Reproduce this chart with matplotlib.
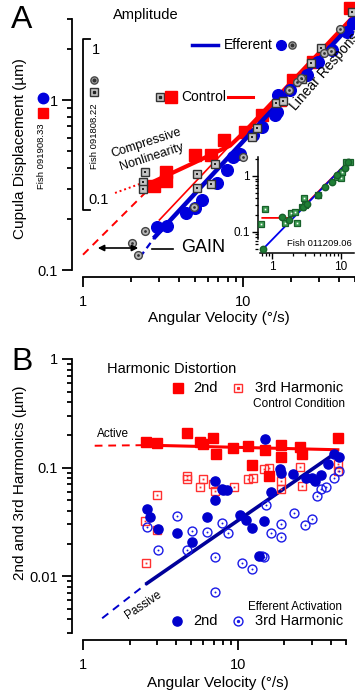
import matplotlib
matplotlib.use('Agg')
import matplotlib.pyplot as plt
from matplotlib.lines import Line2D
from matplotlib.patches import FancyArrowPatch

plt.rcParams['font.family'] = ['Liberation Sans', 'DejaVu Sans']

# ---------------- Panel A data ----------------
a_ctrl_x = [2.78, 3.30, 3.30, 5.0, 6.3, 7.6, 10.3, 13.1, 17.0, 20.5, 27.4, 46.6]
a_ctrl_y = [0.312, 0.375, 0.335, 0.475, 0.475, 0.58, 0.65, 0.82, 1.0, 1.31, 1.67, 3.47]
a_eff_x = [2.90, 3.35, 4.40, 5.0, 5.54, 6.87, 7.94, 8.66, 9.58, 11.5, 13.1, 15.8, 16.3,
           16.5, 19.7, 25.1, 29.5, 36.0, 44.7, 48.8]
a_eff_y = [0.179, 0.181, 0.217, 0.232, 0.258, 0.325, 0.388, 0.462, 0.481, 0.622, 0.694,
           0.816, 0.85, 1.07, 1.145, 1.40, 1.67, 1.97, 2.51, 2.84]
a_ctrl2_x = [2.44, 2.37, 2.37, 5.16, 5.16, 6.32, 6.67, 11.4, 12.2, 16.1, 17.8, 23.4, 26.6, 30.7, 47.9]
a_ctrl2_y = [0.377, 0.329, 0.300, 0.367, 0.304, 0.321, 0.420, 0.606, 0.684, 0.960, 0.987,
             1.33, 1.65, 2.02, 3.29]
a_eff2_x = [2.44, 2.02, 2.21, 4.94, 10.0, 19.4, 21.8, 23.0, 32.1, 35.4, 40.2]
a_eff2_y = [0.169, 0.144, 0.122, 0.235, 0.462, 1.145, 1.28, 1.35, 1.89, 1.94, 2.61]

a_ctrl_fit_x = [2.55, 5.0, 8.3, 12.0, 50.0]
a_ctrl_fit_y = [0.32, 0.43, 0.54, 0.75, 3.1]
a_ctrl_lin_x = [3.0, 50.0]
a_ctrl_lin_y = [0.197, 3.25]
a_ctrl_dash_x = [1.0, 2.44]
a_ctrl_dash_y = [0.123, 0.284]
a_ctrl_dot_x = [1.585, 2.45]
a_ctrl_dot_y = [0.284, 0.33]
a_eff_fit_x = [2.82, 50.0]
a_eff_fit_y = [0.157, 2.95]
a_eff_dash_x = [2.27, 2.82]
a_eff_dash_y = [0.119, 0.157]

# inset (Fish 011209.06)
in_ctrl_x = [0.693, 0.792, 1.54, 2.30, 1.89, 2.15, 2.72, 2.91, 3.01, 4.64, 8.75, 10.0, 10.3, 11.8, 13.5]
in_ctrl_y = [0.139, 0.257, 0.145, 0.145, 0.218, 0.228, 0.280, 0.405, 0.304, 0.458, 0.96, 0.92,
             1.18, 1.78, 1.78]
in_eff_x = [0.74, 1.40, 1.76, 2.81, 3.21, 4.64, 5.86, 7.4, 8.75, 11.4, 12.6]
in_eff_y = [0.050, 0.185, 0.164, 0.28, 0.316, 0.458, 0.636, 0.78, 1.04, 1.39, 1.78]
in_ctrl_fit_x = [0.716, 1.82, 2.54, 13.5]
in_ctrl_fit_y = [0.178, 0.178, 0.247, 1.93]
in_eff_fit_x = [0.716, 13.5]
in_eff_fit_y = [0.048, 1.93]

# ---------------- Panel B data ----------------
b_ctrl2_x = [2.55, 3.0, 4.69, 5.69, 5.94, 6.89, 7.2, 9.3, 11.6, 12.3, 14.9, 16.0, 18.9, 18.9,
             25.4, 25.8, 44.3]
b_ctrl2_y = [0.173, 0.169, 0.209, 0.173, 0.166, 0.188, 0.134, 0.153, 0.159, 0.106, 0.146,
             0.083, 0.162, 0.126, 0.156, 0.134, 0.188]
b_ctrl3_x = [2.55, 2.51, 3.0, 3.0, 4.69, 4.69, 5.69, 5.94, 6.89, 7.1, 9.4, 11.6, 12.5, 14.7,
             16.0, 18.9, 18.9, 25.1, 25.8, 44.3, 44.3]
b_ctrl3_y = [0.0132, 0.032, 0.0264, 0.0565, 0.0845, 0.079, 0.0656, 0.078, 0.0713, 0.0615,
             0.0656, 0.079, 0.081, 0.098, 0.1, 0.076, 0.064, 0.102, 0.068, 0.107, 0.094]
b_eff2_x = [2.59, 2.71, 3.04, 4.04, 5.05, 6.3, 7.1, 7.1, 7.87, 8.5, 7.99, 10.4, 11.3, 12.3,
            14.7, 13.8, 14.9, 16.5, 18.6, 18.9, 22.6, 27.4, 30.0, 31.3, 34.7, 38.1, 42.1, 44.8]
b_eff2_y = [0.042, 0.0348, 0.027, 0.0248, 0.0205, 0.0348, 0.076, 0.0498, 0.0642, 0.0628,
            0.0628, 0.037, 0.0326, 0.028, 0.032, 0.0153, 0.185, 0.060, 0.098, 0.090, 0.088,
            0.081, 0.081, 0.076, 0.086, 0.107, 0.134, 0.126]
b_eff3_x = [2.59, 3.04, 4.04, 4.69, 5.05, 6.3, 7.1, 7.1, 7.87, 8.6, 10.6, 12.3, 14.7, 14.3,
            15.1, 16.5, 18.9, 18.9, 23.0, 27.0, 30.0, 32.3, 34.7, 37.4, 42.1, 44.8]
b_eff3_y = [0.0282, 0.0174, 0.0355, 0.0174, 0.0259, 0.0253, 0.0149, 0.0071, 0.0307, 0.0248,
            0.0132, 0.0116, 0.0149, 0.0153, 0.0448, 0.0248, 0.030, 0.0228, 0.0379, 0.0294,
            0.0334, 0.0553, 0.0642, 0.0656, 0.081, 0.0938]
b_ctrl_fit_x = [2.55, 44.3]
b_ctrl_fit_y = [0.161, 0.146]
b_ctrl_ext_x = [1.19, 2.55]
b_ctrl_ext_y = [0.159, 0.161]
b_eff_fit_x = [2.59, 42.1]
b_eff_fit_y = [0.0086, 0.134]
b_eff_ext_x = [1.33, 2.59]
b_eff_ext_y = [0.0041, 0.0086]

x_major = [1, 10]
x_major_labels = ['1', '10']
x_minor = [2, 3, 4, 5, 6, 7, 8, 9, 20, 30, 40, 50]
a_y_major = [0.1, 1]
a_y_major_labels = ['0.1', '1']
a_y_minor = [0.2, 0.3, 0.4, 0.5, 0.6, 0.7, 0.8, 0.9, 2, 3]
b_y_major = [0.01, 0.1, 1]
b_y_major_labels = ['0.01', '0.1', '1']
b_y_minor = [0.003, 0.004, 0.005, 0.006, 0.007, 0.008, 0.009,
             0.02, 0.03, 0.04, 0.05, 0.06, 0.07, 0.08, 0.09,
             0.2, 0.3, 0.4, 0.5, 0.6, 0.7, 0.8, 0.9]

RED = '#ff0000'
BLUE = '#0000dd'
NAVY = '#00009a'
GREEN = '#1f7f35'

W, H = 355, 692
fig = plt.figure(figsize=(W / 100, H / 100), dpi=100)


def P(x, y):
    return (x / W, 1 - y / H)


def style_axes(ax, left_out=8, bottom_out=5, lw=1.3, fs=10.5):
    for s in ['top', 'right']:
        ax.spines[s].set_visible(False)
    ax.spines['left'].set_position(('outward', left_out))
    ax.spines['bottom'].set_position(('outward', bottom_out))
    for s in ['left', 'bottom']:
        ax.spines[s].set_linewidth(lw)
    ax.tick_params(which='major', direction='out', length=7, width=lw, labelsize=fs, pad=3)
    ax.tick_params(which='minor', direction='out', length=3.8, width=lw)
    ax.tick_params(axis='x', which='major', pad=6)
    ax.patch.set_alpha(0)


def dotmark(ax, x, y, marker, ms, mfc, mec, mew, dotc, dotms, z=4, **kw):
    ax.plot(x, y, linestyle='none', marker=marker, ms=ms, mfc=mfc, mec=mec, mew=mew,
            zorder=z, clip_on=False, **kw)
    ax.plot(x, y, linestyle='none', marker='s' if marker == 's' else 'o', ms=dotms,
            mfc=dotc, mec=dotc, mew=0, zorder=z + 0.1, clip_on=False, **kw)


def fig_marker(px, py, **kw):
    fx, fy = P(px, py)
    fig.add_artist(Line2D([fx], [fy], linestyle='none', transform=fig.transFigure, **kw))


def fig_line(xs, ys, **kw):
    fig.add_artist(Line2D([x / W for x in xs], [1 - y / H for y in ys],
                          transform=fig.transFigure, **kw))


# ================= Panel A =================
axA = fig.add_axes([83 / W, 1 - 270 / H, (355 - 83) / W, (270 - 19) / H])
axA.set_xscale('log')
axA.set_yscale('log')
axA.set_xlim(1, 50)
axA.set_ylim(0.1, 3)
style_axes(axA)
axA.set_xticks(x_major)
axA.set_xticklabels(x_major_labels)
axA.set_xticks(x_minor, minor=True)
axA.set_xticklabels([], minor=True)
axA.set_yticks(a_y_major)
axA.set_yticklabels(a_y_major_labels)
axA.set_yticks(a_y_minor, minor=True)
axA.set_yticklabels([], minor=True)

axA.plot(a_ctrl_dash_x, a_ctrl_dash_y, color=RED, lw=1.4, ls=(0, (4, 3)), zorder=2, clip_on=False)
axA.plot(a_ctrl_dot_x, a_ctrl_dot_y, color=RED, lw=1.4, ls=(0, (1, 1.5)), zorder=2, clip_on=False)
axA.plot(a_ctrl_fit_x, a_ctrl_fit_y, color=RED, lw=3, zorder=2, clip_on=False)
axA.plot(a_ctrl_x, a_ctrl_y, 's', ms=9, color=RED, mec=RED, zorder=3, clip_on=False)
axA.plot(a_eff_dash_x, a_eff_dash_y, color='#0000cc', lw=1.6, ls=(0, (3, 2)), zorder=3, clip_on=False)
axA.plot(a_eff_fit_x, a_eff_fit_y, color='#0000cc', lw=3.2, zorder=3, clip_on=False)
axA.plot(a_ctrl_lin_x, a_ctrl_lin_y, color=RED, lw=1.2, zorder=3.5, clip_on=False)
axA.plot(a_eff_x, a_eff_y, 'o', ms=8.4, color=BLUE, mec=BLUE, zorder=4, clip_on=False)
dotmark(axA, a_ctrl2_x, a_ctrl2_y, 's', 5.2, '#c4c4c4', '#333333', 1.0, '#222222', 1.6, z=5)
dotmark(axA, a_eff2_x, a_eff2_y, 'o', 5.6, '#b8b8b8', '#444444', 1.0, '#333333', 2.0, z=5)

# inset
axI = fig.add_axes([258 / W, 1 - 253 / H, 96 / W, 96 / H])
axI.set_xscale('log')
axI.set_yscale('log')
axI.set_xlim(0.62, 15.5)
axI.set_ylim(0.042, 2.18)
for s in ['top', 'right']:
    axI.spines[s].set_visible(False)
axI.spines['left'].set_bounds(0.075, 2.18)
axI.spines['bottom'].set_bounds(0.67, 15.5)
for s in ['left', 'bottom']:
    axI.spines[s].set_linewidth(1.1)
axI.tick_params(which='major', direction='out', length=4, width=1.0, labelsize=8.5, pad=2)
axI.tick_params(which='minor', direction='out', length=2.2, width=0.9)
axI.set_xticks([1, 10])
axI.set_xticklabels(['1', '10'])
axI.set_xticks([0.7, 0.8, 0.9, 2, 3, 4, 5, 6, 7, 8, 9], minor=True)
axI.set_xticklabels([], minor=True)
axI.set_yticks([0.1, 1])
axI.set_yticklabels(['0.1', '1'])
axI.set_yticks([0.05, 0.06, 0.07, 0.08, 0.09, 0.2, 0.3, 0.4, 0.5, 0.6, 0.7, 0.8, 0.9, 2], minor=True)
axI.set_yticklabels([], minor=True)
axI.patch.set_alpha(0)
axI.plot(in_ctrl_fit_x, in_ctrl_fit_y, color=RED, lw=1.3, zorder=2)
axI.plot(in_eff_fit_x, in_eff_fit_y, color='#0000ee', lw=1.3, zorder=2)
dotmark(axI, in_ctrl_x, in_ctrl_y, 's', 4.2, '#3b9a50', '#17602a', 0.9, 'white', 1.2, z=3)
axI.plot(in_eff_x, in_eff_y, 'o', ms=4.6, color=GREEN, mec='#17602a', zorder=4, clip_on=False)
axI.text(0.98, 0.05, 'Fish 011209.06', transform=axI.transAxes, ha='right', va='bottom',
         fontsize=6.8)

# panel A annotations
fig.text(*P(11, 20), 'A', fontsize=23, ha='left', va='center')
fig.text(*P(113, 15), 'Amplitude', fontsize=10.5, ha='left', va='center')
fig_line([192, 218], [45, 45], color='#0000cc', lw=2.5)
fig.text(*P(224, 45), 'Efferent', fontsize=10, ha='left', va='center')
fig_marker(281, 45, marker='o', ms=7, color=BLUE)
fig_marker(292, 45, marker='o', ms=5.2, mfc='#b8b8b8', mec='#444444', mew=1.0)
fig_marker(292, 45, marker='o', ms=2.0, color='#333333')
fig_marker(160, 97, marker='s', ms=5.2, mfc='#c4c4c4', mec='#333333', mew=1.0)
fig_marker(160, 97, marker='s', ms=1.6, color='#222222')
fig_marker(171, 97, marker='s', ms=8, color=RED)
fig.text(*P(181, 97), 'Control', fontsize=10, ha='left', va='center')
fig_line([228, 253], [97, 97], color=RED, lw=2.2)
fig.text(*P(146, 143), 'Compressive', fontsize=9, ha='center', va='center', rotation=18,
         rotation_mode='anchor')
fig.text(*P(152, 157), 'Nonlinearity', fontsize=9, ha='center', va='center', rotation=18,
         rotation_mode='anchor')
fig.text(*P(298, 113), 'Linear Response', fontsize=10, ha='left', va='bottom', rotation=49,
         rotation_mode='anchor')
fig.add_artist(FancyArrowPatch(P(95, 248), P(141, 248), arrowstyle='<|-|>', mutation_scale=9,
                               lw=1.2, color='black', transform=fig.transFigure))
fig_line([152, 173], [249, 249], color='black', lw=1.2)
fig.text(*P(181, 248), 'GAIN', fontsize=13, ha='left', va='center')
fig_line([90, 83, 83, 90], [39, 39, 210, 210], color='black', lw=1.3)
fig.text(*P(92, 50), '1', fontsize=10.5, ha='left', va='center')
fig.text(*P(88, 200), '0.1', fontsize=10.5, ha='left', va='center')
fig.text(*P(95, 136), 'Fish 091808.22', fontsize=6.8, rotation=90, ha='center', va='center')
fig_marker(94, 80, marker='o', ms=5.2, mfc='#b8b8b8', mec='#444444', mew=1.0)
fig_marker(94, 80, marker='o', ms=2.0, color='#333333')
fig_marker(94, 92, marker='s', ms=5.2, mfc='#c4c4c4', mec='#333333', mew=1.0)
fig_marker(94, 92, marker='s', ms=1.6, color='#222222')
fig.text(*P(42, 156), 'Fish 091908.33', fontsize=6.8, rotation=90, ha='center', va='center')
fig_marker(43, 98, marker='o', ms=7.5, color=BLUE)
fig_marker(43, 113, marker='s', ms=7.2, color=RED)
fig.text(*P(20, 149), 'Cupula Displacement (µm)', fontsize=11, rotation=90, ha='center',
         va='center')
fig.text(*P(219, 318), 'Angular Velocity (°/s)', fontsize=11, ha='center', va='center')

# ================= Panel B =================
axB = fig.add_axes([83 / W, 1 - 633 / H, (346 - 83) / W, (633 - 359) / H])
axB.set_xscale('log')
axB.set_yscale('log')
axB.set_xlim(1, 50)
axB.set_ylim(0.003, 1)
style_axes(axB)
axB.set_xticks(x_major)
axB.set_xticklabels(x_major_labels)
axB.set_xticks(x_minor, minor=True)
axB.set_xticklabels([], minor=True)
axB.set_yticks(b_y_major)
axB.set_yticklabels(b_y_major_labels)
axB.set_yticks(b_y_minor, minor=True)
axB.set_yticklabels([], minor=True)

axB.plot(b_ctrl_ext_x, b_ctrl_ext_y, color=RED, lw=1.4, ls=(0, (4, 3)), zorder=2)
axB.plot(b_ctrl_fit_x, b_ctrl_fit_y, color=RED, lw=2.2, zorder=2)
dotmark(axB, b_ctrl3_x, b_ctrl3_y, 's', 6.0, 'none', '#ff3030', 1.0, '#ff3030', 1.3, z=3)
axB.plot(b_ctrl2_x, b_ctrl2_y, 's', ms=7.2, color=RED, zorder=3.5, clip_on=False)
axB.plot(b_eff_ext_x, b_eff_ext_y, color='#0000cc', lw=1.4, ls=(0, (4, 3)), zorder=2)
axB.plot(b_eff_fit_x, b_eff_fit_y, color=NAVY, lw=2.6, zorder=2.5)
dotmark(axB, b_eff3_x, b_eff3_y, 'o', 6.4, 'none', '#1a1ae6', 1.0, '#1a1ae6', 1.4, z=3)
axB.plot(b_eff2_x, b_eff2_y, 'o', ms=6.6, color='#0000cc', zorder=4, clip_on=False)

fig.text(*P(11, 362), 'B', fontsize=23, ha='left', va='center')
fig.text(*P(107, 369), 'Harmonic Distortion', fontsize=10.5, ha='left', va='center')
fig_marker(178, 388, marker='s', ms=7.2, color=RED)
fig.text(*P(193, 388), '2nd', fontsize=10.5, ha='left', va='center')
fig_marker(238, 388, marker='s', ms=6.0, mfc='none', mec='#ff3030', mew=1.0)
fig_marker(238, 388, marker='s', ms=1.3, color='#ff3030')
fig.text(*P(255, 388), '3rd Harmonic', fontsize=10.5, ha='left', va='center')
fig.text(*P(253, 404), 'Control Condition', fontsize=8.6, ha='left', va='center')
fig.text(*P(97, 434), 'Active', fontsize=8.5, ha='left', va='center')
fig.text(*P(143, 605), 'Passive', fontsize=8.5, ha='center', va='center', rotation=34,
         rotation_mode='anchor')
fig.text(*P(248, 607), 'Efferent Activation', fontsize=8.4, ha='left', va='center')
fig_marker(177, 621, marker='o', ms=6.6, color='#0000cc')
fig.text(*P(193, 621), '2nd', fontsize=10.5, ha='left', va='center')
fig_marker(238, 621, marker='o', ms=6.4, mfc='none', mec='#1a1ae6', mew=1.0)
fig_marker(238, 621, marker='o', ms=1.4, color='#1a1ae6')
fig.text(*P(255, 621), '3rd Harmonic', fontsize=10.5, ha='left', va='center')
fig.text(*P(20, 483), '2nd and 3rd Harmonics (µm)', fontsize=11, rotation=90, ha='center',
         va='center')
fig.text(*P(218, 683), 'Angular Velocity (°/s)', fontsize=11, ha='center', va='center')

fig.savefig('out.png', dpi=100)
